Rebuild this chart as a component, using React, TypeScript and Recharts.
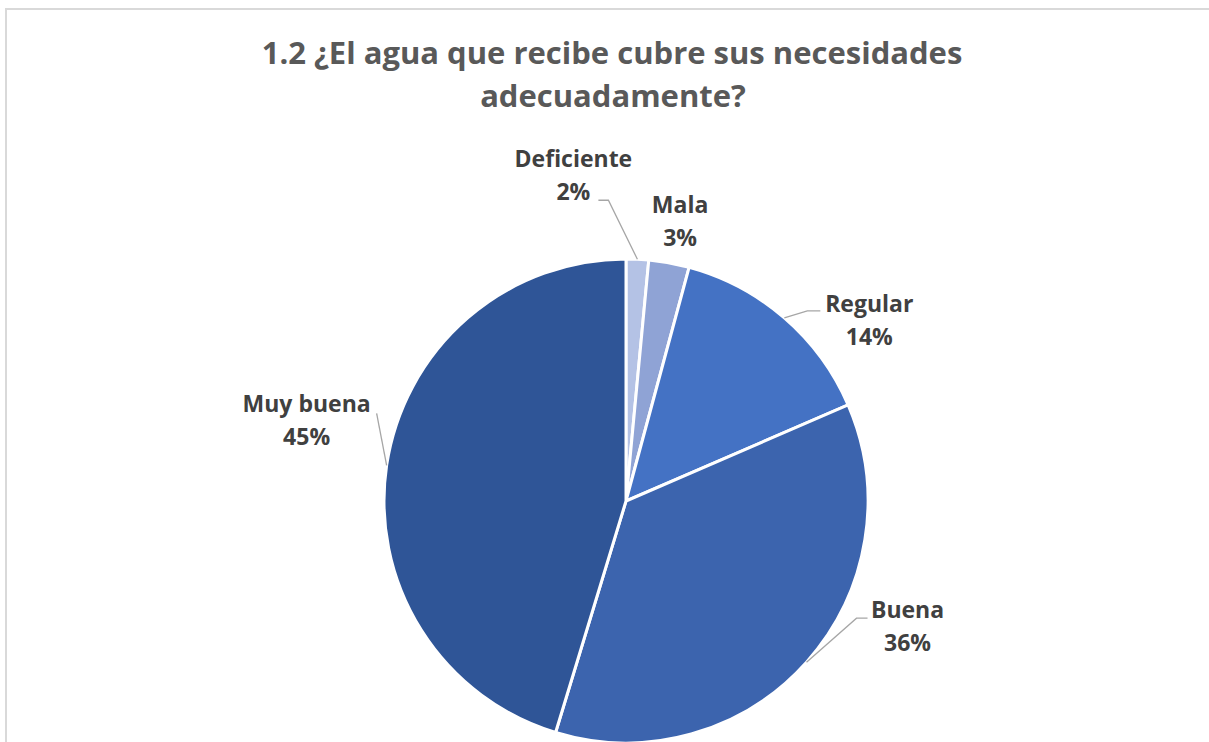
import React from "react";
import { PieChart, Pie, Cell } from "recharts";

const categories = ["Deficiente", "Mala", "Regular", "Buena", "Muy buena"];
const values = [1.5, 2.7, 14.3, 36.2, 45.3];
const colors = ["#b4c2e5", "#8fa3d5", "#4472c4", "#3c64ae", "#2f5597"];

// label layout relative to the slice's outer-edge midpoint
const labelLayout = [
  { line: [[-29, -59], [-39, -59]], text: [-64, -92] },
  { line: null, text: [11, -50] },
  { line: [[23, -7], [36, -7]], text: [85, -6] },
  { line: [[50, -44], [61, -44]], text: [101, -44] },
  { line: [[-10, -52]], text: [-80, -53] },
];

const data = categories.map((name, i) => ({ name, value: values[i] }));

const RADIAN = Math.PI / 180;
const FONT = "'Open Sans', Lato, sans-serif";

const renderLabel = (props: any) => {
  const { cx, cy, midAngle, outerRadius, index, value } = props;
  const ex = cx + outerRadius * Math.cos(-midAngle * RADIAN);
  const ey = cy + outerRadius * Math.sin(-midAngle * RADIAN);
  const lay = labelLayout[index];
  let path = "";
  if (lay.line) {
    path = `M${ex},${ey}` + lay.line.map((p) => ` L${ex + p[0]},${ey + p[1]}`).join("");
  }
  const tx = ex + lay.text[0];
  const ty = ey + lay.text[1];
  return (
    <g key={`lbl-${index}`}>
      {path && <path d={path} stroke="#a6a6a6" strokeWidth={1.3} fill="none" />}
      <text
        x={tx}
        y={ty}
        textAnchor="middle"
        fill="#404040"
        fontFamily={FONT}
        fontWeight={700}
        fontSize={23}
      >
        <tspan x={tx} y={ty}>{categories[index]}</tspan>
        <tspan x={tx} y={ty + 33}>{`${Math.round(value)}%`}</tspan>
      </text>
    </g>
  );
};

export default function App() {
  return (
    <div
      style={{
        position: "absolute",
        left: 0,
        top: 0,
        width: 1209,
        height: 742,
        overflow: "hidden",
        background: "#fff",
      }}
    >
      <div
        style={{
          position: "absolute",
          left: 5,
          top: 8,
          width: 1240,
          height: 780,
          border: "2px solid #d9d9d9",
          boxSizing: "border-box",
        }}
      />
      <svg
        width={1209}
        height={130}
        style={{ position: "absolute", left: 0, top: 0 }}
      >
        <text
          x={612}
          y={64}
          textAnchor="middle"
          fill="#595959"
          fontFamily={FONT}
          fontWeight={700}
          fontSize={31}
        >
          1.2 ¿El agua que recibe cubre sus necesidades
        </text>
        <text
          x={613}
          y={107}
          textAnchor="middle"
          fill="#595959"
          fontFamily={FONT}
          fontWeight={700}
          fontSize={31}
        >
          adecuadamente?
        </text>
      </svg>
      <div style={{ position: "absolute", left: 0, top: 0 }}>
        <PieChart width={1209} height={742} margin={{ top: 0, right: 0, bottom: 0, left: 0 }}>
          <Pie
            data={data}
            dataKey="value"
            nameKey="name"
            cx={626}
            cy={501}
            outerRadius={242}
            startAngle={90}
            endAngle={-270}
            stroke="#ffffff"
            strokeWidth={3}
            label={renderLabel}
            labelLine={false}
            isAnimationActive={false}
          >
            {data.map((d, i) => (
              <Cell key={d.name} fill={colors[i]} />
            ))}
          </Pie>
        </PieChart>
      </div>
    </div>
  );
}
